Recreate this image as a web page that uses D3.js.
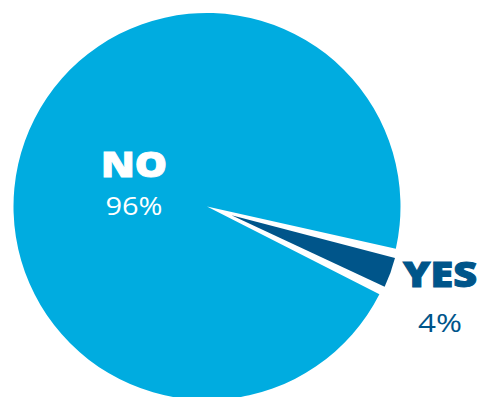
<!DOCTYPE html>
<html>
<head>
<meta charset="utf-8">
<script src="https://cdn.jsdelivr.net/npm/d3@7"></script>
<style>
  html, body { margin: 0; padding: 0; background: #ffffff; }
  svg { display: block; }
</style>
</head>
<body>
<svg id="chart" width="480" height="397"></svg>
<script>
// Survey answers and their shares (percent)
const answers = ["YES", "NO"];
const shares = [4, 96];
const sliceColors = ["#00558A", "#00ACE0"];

const width = 480, height = 397;
const cx = 207, cy = 206.5, radius = 193.5;

const svg = d3.select("#chart");
const g = svg.append("g").attr("transform", `translate(${cx},${cy})`);

const data = answers.map((a, i) => ({ answer: a, value: shares[i], color: sliceColors[i] }));

// YES wedge starts just below the 3 o'clock direction
const start = 102.6 * Math.PI / 180;
const pie = d3.pie().value(d => d.value).sort(null)
  .startAngle(start).endAngle(start + 2 * Math.PI);
const arcs = pie(data);

const arcMain = d3.arc().innerRadius(0).outerRadius(radius);
// the small slice is pulled out and narrowed so a white gap surrounds it
const pull = 26;
const arcPulled = d3.arc().innerRadius(0).outerRadius(radius - pull + 1.5).padAngle(0.07);

arcs.forEach(a => {
  if (a.data.answer === "NO") {
    g.append("path")
      .attr("d", arcMain(a))
      .attr("fill", a.data.color);
  } else {
    const mid = (a.startAngle + a.endAngle) / 2;
    const dx = pull * Math.sin(mid), dy = -pull * Math.cos(mid);
    g.append("path")
      .attr("transform", `translate(${dx},${dy})`)
      .attr("d", arcPulled(a))
      .attr("fill", a.data.color);
  }
});

// Labels
const labels = [
  { answer: "NO", x: 134, y: 177, py: 215, color: "#ffffff", w: 66, pw: 57 },
  { answer: "YES", x: 440, y: 287, py: 332, color: "#00558A", w: 74, pw: 44 }
];

labels.forEach(l => {
  const d = data.find(e => e.answer === l.answer);
  svg.append("text")
    .attr("x", l.x).attr("y", l.y)
    .attr("text-anchor", "middle")
    .attr("font-family", "'Open Sans', sans-serif")
    .attr("font-weight", 800)
    .attr("font-size", 35)
    .attr("fill", l.color)
    .attr("stroke", l.color)
    .attr("stroke-width", 1)
    .attr("textLength", l.w)
    .attr("lengthAdjust", "spacingAndGlyphs")
    .text(d.answer);
  svg.append("text")
    .attr("x", l.x).attr("y", l.py)
    .attr("text-anchor", "middle")
    .attr("font-family", "'Open Sans', sans-serif")
    .attr("font-weight", 400)
    .attr("font-size", 25)
    .attr("fill", l.color)
    .attr("textLength", l.pw)
    .attr("lengthAdjust", "spacingAndGlyphs")
    .text(d.value + "%");
});
</script>
</body>
</html>
